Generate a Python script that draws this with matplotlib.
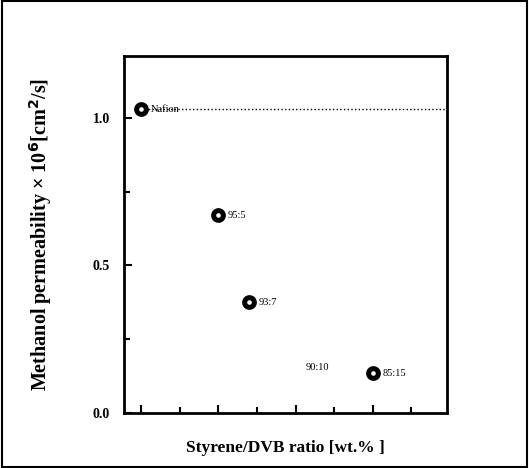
import numpy as np
import matplotlib
matplotlib.use("Agg")
import matplotlib.pyplot as plt
from matplotlib.patches import Rectangle
from matplotlib.ticker import MultipleLocator

# data (x = DVB content in wt.%)
dvb = [0, 5, 7, 10, 15]
perm = [1.03, 0.67, 0.375, 0.155, 0.135]
names = ["Nafion", "95:5", "93:7", "90:10", "85:15"]
has_marker = [True, True, True, False, True]
nafion_level = 1.03

plt.rcParams['font.family'] = ['Liberation Serif', 'DejaVu Serif']

fig = plt.figure(figsize=(5.29, 4.68), dpi=100)
ax = fig.add_axes([0.2344, 0.1175, 0.6106, 0.7628])

# dotted reference line for Nafion
ax.plot([dvb[0], 20], [nafion_level, nafion_level], ls=':', color='black', lw=1.0)

xs = [x for x, m in zip(dvb, has_marker) if m]
ys = [y for y, m in zip(perm, has_marker) if m]
ax.plot(xs, ys, ls='none', marker='o', ms=7, mew=3.6,
        mfc='white', mec='black', zorder=3)

for x, y, name in zip(dvb, perm, names):
    ax.annotate(name, (x, y), xytext=(7, 0), textcoords='offset points',
                ha='left', va='center', fontsize=7.5)

ax.set_xlim(-1.1, 19.8)
ax.set_ylim(0, 1.21)

ax.xaxis.set_major_locator(MultipleLocator(5))
ax.xaxis.set_minor_locator(MultipleLocator(2.5))
ax.yaxis.set_major_locator(MultipleLocator(0.5))
ax.yaxis.set_minor_locator(MultipleLocator(0.25))
ax.tick_params(which='both', direction='in', width=1.5)
ax.tick_params(which='major', length=6)
ax.tick_params(which='minor', length=4)
ax.tick_params(axis='x', labelbottom=False)
ax.tick_params(axis='y', labelsize=10, pad=10)
for lab in ax.get_yticklabels():
    lab.set_fontweight('bold')
for s in ax.spines.values():
    s.set_linewidth(2)

ax.set_xlabel("Styrene/DVB ratio [wt.% ]", fontsize=12.5, fontweight='bold', labelpad=16)
ax.set_ylabel("Methanol permeability \u00d7 10$^\\mathbf{6}$[cm$^\\mathbf{2}$/s]",
              fontsize=14.5, fontweight='bold', labelpad=28)

# outer frame
fig.patches.append(Rectangle((0.003, 0.003), 0.994, 0.994, transform=fig.transFigure,
                             fill=False, edgecolor='black', lw=1.5))

fig.savefig("out.png", dpi=100)
